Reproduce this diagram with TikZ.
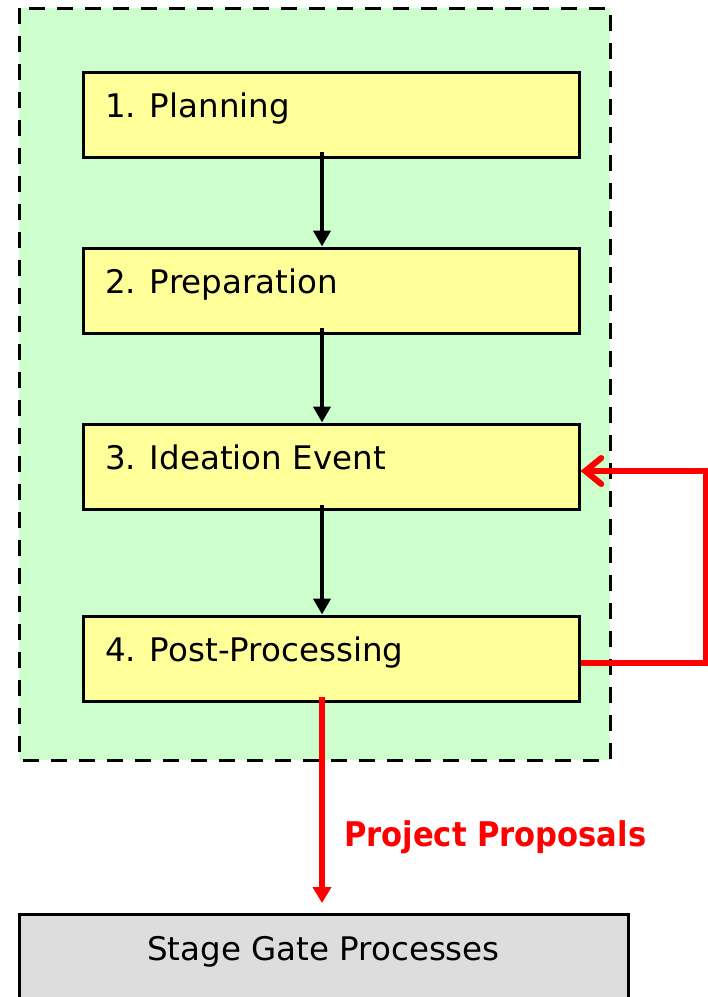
\documentclass[tikz,border=0pt]{standalone}
\usepackage{fontspec}
\setmainfont{DejaVu Sans}
\newfontfamily\condbold{DejaVu Sans Condensed Bold}
\usetikzlibrary{arrows.meta}
\definecolor{phasegreen}{HTML}{CCFFCC}
\definecolor{stepyellow}{HTML}{FFFF99}
\definecolor{gategray}{HTML}{DDDDDD}
\definecolor{flowred}{HTML}{FF0000}
\tikzset{
  phasebox/.style={draw=black, line width=3pt, dash pattern=on 16pt off 12pt, fill=phasegreen},
  stepbox/.style={draw=black, line width=3pt, fill=stepyellow, minimum width=496pt, minimum height=85pt, inner sep=0pt},
  gatebox/.style={draw=black, line width=3pt, fill=gategray},
  steplabel/.style={anchor=base west, inner sep=0pt, font=\fontsize{32.5}{36}\selectfont},
  flow/.style={line width=4pt, -{Triangle[length=16pt,width=17pt]}},
  redflow/.style={flowred, line width=6pt},
}
\begin{document}
\begin{tikzpicture}[x=1pt,y=-1pt]
\useasboundingbox (0,0) rectangle (708,997);
\clip (0,0) rectangle (708,997);

% idea-generation phase frame
\draw[phasebox] (19,8) rectangle (610,760);

% the four steps
\node[stepbox] (s1) at (331,114.5) {};
\node[stepbox] (s2) at (331,290.5) {};
\node[stepbox] (s3) at (331,466.5) {};
\node[stepbox] (s4) at (331,658.5) {};
\node[steplabel] (t1) at (105,117) {1. Planning};
\node[steplabel] (t2) at (105,293) {2. Preparation};
\node[steplabel] (t3) at (105,469) {3. Ideation Event};
\node[steplabel] (t4) at (105,661) {4. Post-Processing};

% sequence between steps
\coordinate (a1) at (322,152);
\coordinate (a2) at (322,328);
\coordinate (a3) at (322,505);
\draw[flow] (a1) -- (a1 |- s2.north);
\draw[flow] (a2) -- (a2 |- s3.north);
\draw[flow] (a3) -- (a3 |- s4.north);

% feedback loop from post-processing back to the ideation event
\coordinate (loopout) at (s4.east |- 0,663);
\coordinate (loopin) at (s3.east |- 0,471);
\coordinate (loopR) at (706,0);
\draw[redflow, -{Straight Barb[length=16pt,width=26pt,line width=6pt,line cap=round]}]
  (loopout) -- (loopout -| loopR) -- (loopin -| loopR) -- (loopin);

% hand-over to the stage gate processes
\node[gatebox, minimum width=609pt, minimum height=120pt, inner sep=0pt] (gate) at (323.5,974) {};
\node[anchor=base, inner sep=0pt, font=\fontsize{32.5}{36}\selectfont] (gatetext) at (323.5,960) {Stage Gate Processes};
\coordinate (out) at (322,697);
\coordinate (outtip) at (322,903);
\draw[redflow, -{Triangle[length=16pt,width=18pt]}] (out) -- (outtip);
\node[anchor=base west, inner sep=0pt, text=flowred, font=\condbold\fontsize{34}{38}\selectfont] (pp) at (344,846) {Project Proposals};
\end{tikzpicture}
\end{document}
